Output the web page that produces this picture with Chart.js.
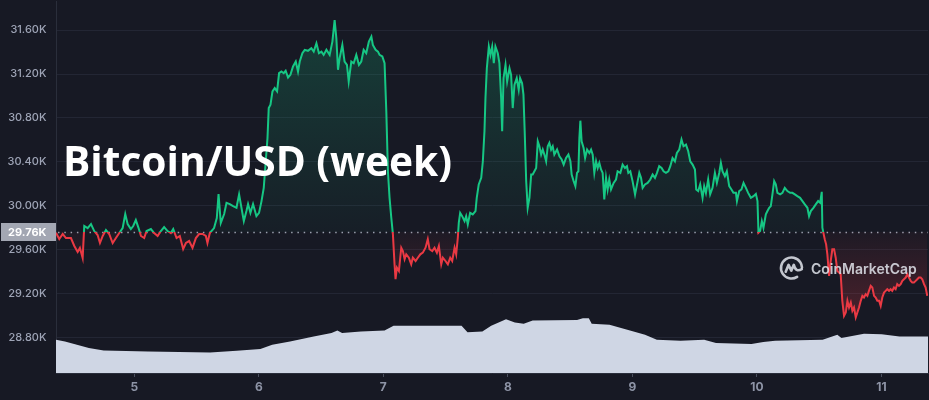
<!DOCTYPE html>
<html>
<head>
<meta charset="utf-8">
<script src="https://cdn.jsdelivr.net/npm/chart.js@4.4.1/dist/chart.umd.min.js"></script>
<style>
  html, body { margin: 0; padding: 0; background: #171924; }
  #wrap { width: 929px; height: 400px; }
</style>
</head>
<body>
<div id="wrap"><canvas id="myChart" width="929" height="400"></canvas></div>
<script>
// price (USD), time in days of the month
const priceTimes = [
  4.372, 4.398, 4.426, 4.452, 4.492, 4.519, 4.546, 4.564, 4.586, 4.599,
  4.626, 4.653, 4.679, 4.706, 4.725, 4.747, 4.773, 4.799, 4.827, 4.853,
  4.880, 4.907, 4.928, 4.947, 4.973, 4.992, 5.013, 5.035, 5.054, 5.080,
  5.099, 5.134, 5.160, 5.188, 5.214, 5.240, 5.268, 5.294, 5.313, 5.340,
  5.366, 5.393, 5.415, 5.441, 5.468, 5.495, 5.521, 5.548, 5.575, 5.588,
  5.607, 5.641, 5.663, 5.677, 5.695, 5.722,
  5.741, 5.767, 5.794, 5.821, 5.842, 5.861, 5.880, 5.901, 5.914, 5.933,
  5.954, 5.981, 6.002, 6.022, 6.040, 6.056, 6.070, 6.080, 6.094, 6.110,
  6.128, 6.147, 6.163, 6.182, 6.200, 6.216, 6.235, 6.254, 6.275, 6.297,
  6.315, 6.329, 6.350, 6.369, 6.395, 6.422, 6.441, 6.463, 6.483, 6.503,
  6.521, 6.543, 6.569, 6.591, 6.609, 6.623, 6.636, 6.649, 6.671, 6.689,
  6.708, 6.722, 6.743, 6.762, 6.783, 6.804, 6.823, 6.842, 6.863, 6.884,
  6.904, 6.916, 6.938, 6.957, 6.970, 6.992, 7.010, 7.024, 7.037, 7.050,
  7.064, 7.077, 7.090,
  7.098, 7.109, 7.125, 7.144, 7.157, 7.171, 7.184, 7.205, 7.224, 7.237,
  7.259, 7.277, 7.297, 7.317, 7.339, 7.357, 7.371, 7.393, 7.411, 7.430,
  7.446, 7.465, 7.478, 7.499, 7.518, 7.537, 7.553, 7.572, 7.585, 7.598,
  7.606, 7.617, 7.633, 7.652, 7.665, 7.678, 7.697, 7.718, 7.740, 7.750,
  7.766, 7.786, 7.799, 7.812, 7.820, 7.831, 7.847, 7.860, 7.874, 7.887,
  7.900, 7.919, 7.932, 7.946, 7.954, 7.965, 7.981, 7.994, 8.013, 8.026,
  8.039, 8.053, 8.071, 8.087, 8.098, 8.114, 8.125, 8.135, 8.147, 8.159,
  8.173, 8.187, 8.199, 8.213, 8.227, 8.240, 8.253, 8.267, 8.280, 8.293,
  8.307, 8.320, 8.333,
  8.347, 8.360, 8.373, 8.395, 8.414, 8.432, 8.448, 8.467, 8.486, 8.502,
  8.512, 8.528, 8.542, 8.555, 8.566, 8.574, 8.582, 8.592, 8.608, 8.620,
  8.636, 8.654, 8.668, 8.681, 8.694, 8.708, 8.721, 8.734, 8.748, 8.761,
  8.774, 8.788, 8.801, 8.814, 8.828, 8.849, 8.868, 8.881, 8.903, 8.921,
  8.940, 8.956, 8.967, 8.983, 9.001, 9.021, 9.037, 9.055, 9.069, 9.082,
  9.101, 9.122, 9.143, 9.162, 9.181, 9.197, 9.215, 9.234, 9.250, 9.269,
  9.288, 9.304, 9.322, 9.341, 9.357, 9.376, 9.394, 9.410, 9.430, 9.448,
  9.464, 9.483, 9.502, 9.512, 9.528, 9.544, 9.563, 9.576, 9.590, 9.608,
  9.624, 9.643, 9.662, 9.678, 9.697, 9.710, 9.723, 9.742, 9.758, 9.777,
  9.795, 9.811, 9.831, 9.839, 9.857, 9.875,
  9.892, 9.911, 9.929, 9.951, 9.972, 9.991, 10.004, 10.012, 10.025, 10.039,
  10.052, 10.071, 10.084, 10.098, 10.111, 10.124, 10.138, 10.151, 10.164, 10.186,
  10.204, 10.223, 10.244, 10.266, 10.284, 10.304, 10.324, 10.346, 10.365, 10.384,
  10.405, 10.418, 10.432, 10.453, 10.472, 10.491, 10.507, 10.520, 10.525, 10.533,
  10.544, 10.555, 10.565, 10.579, 10.592, 10.605, 10.619, 10.632, 10.645, 10.659,
  10.672, 10.685, 10.699, 10.713, 10.726, 10.739, 10.753, 10.766, 10.779, 10.793,
  10.806, 10.819, 10.833, 10.846, 10.859, 10.873, 10.886, 10.899, 10.913, 10.926,
  10.940, 10.953, 10.966, 10.980, 10.993, 11.006, 11.020, 11.033, 11.046, 11.060,
  11.073, 11.086, 11.100, 11.113, 11.126, 11.140, 11.154, 11.167, 11.180, 11.194,
  11.207, 11.220, 11.234, 11.247, 11.260, 11.274, 11.287, 11.300, 11.314, 11.327,
  11.341, 11.354, 11.367
];
const priceValues = [
  29754, 29696, 29742, 29705, 29705, 29633, 29578, 29615, 29524, 29815,
  29796, 29833, 29769, 29733, 29660, 29724, 29778, 29742, 29660, 29705,
  29751, 29796, 29924, 29833, 29787, 29815, 29869, 29796, 29724, 29705,
  29769, 29787, 29751, 29724, 29769, 29805, 29769, 29751, 29787, 29705,
  29724, 29605, 29660, 29678, 29615, 29705, 29742, 29742, 29724, 29660,
  29751, 29796, 29887, 30105, 29842, 29924,
  30026, 30015, 29996, 29981, 30103, 29981, 29860, 29951, 30015, 29935,
  30015, 29905, 29935, 30042, 30163, 30405, 30617, 30890, 30921, 31042,
  31072, 31042, 31208, 31223, 31208, 31230, 31169, 31193, 31269, 31314,
  31223, 31314, 31390, 31421, 31412, 31435, 31405, 31481, 31390, 31405,
  31375, 31421, 31375, 31496, 31693, 31526, 31239, 31344, 31466, 31314,
  31284, 31133, 31314, 31299, 31375, 31284, 31314, 31421, 31390, 31496,
  31542, 31466, 31421, 31405, 31375, 31360, 31299, 30860, 30314, 30072,
  29890, 29739, 29466,
  29330, 29435, 29405, 29617, 29587, 29512, 29557, 29526, 29466, 29526,
  29496, 29526, 29557, 29572, 29617, 29694, 29603, 29587, 29617, 29572,
  29633, 29466, 29526, 29496, 29466, 29526, 29496, 29617, 29557, 29708,
  29845, 29935, 29905, 29860, 29905, 29830, 29935, 29921, 29951, 30072,
  30194, 30254, 30405, 30678, 30981, 31253, 31451, 31375, 31451, 31299,
  31451, 31390, 31299, 30981, 30678, 31163, 31284, 31133, 31253, 31193,
  30890, 31103, 31163, 31057, 31163, 31117, 31012, 30678, 30224, 29981,
  30072, 30284, 30284, 30314, 30344, 30587, 30542, 30466, 30512, 30466,
  30405, 30542, 30572,
  30512, 30542, 30466, 30512, 30451, 30421, 30375, 30435, 30466, 30405,
  30284, 30224, 30178, 30299, 30314, 30617, 30775, 30587, 30526, 30435,
  30512, 30481, 30512, 30466, 30299, 30405, 30344, 30390, 30330, 30299,
  30057, 30254, 30148, 30239, 30148, 30208, 30239, 30314, 30299, 30375,
  30344, 30360, 30299, 30314, 30224, 30103, 30194, 30299, 30254, 30163,
  30194, 30208, 30239, 30284, 30254, 30299, 30360, 30344, 30314, 30299,
  30314, 30360, 30435, 30405, 30481, 30512, 30603, 30542, 30557, 30496,
  30405, 30375, 30330, 30148, 30133, 30194, 30072, 30178, 30117, 30239,
  30103, 30163, 30299, 30208, 30299, 30390, 30314, 30269, 30314, 30178,
  30148, 30117, 30117, 30042, 30133, 30148,
  30208, 30163, 30117, 30072, 30087, 30108, 30042, 29754, 29769, 29860,
  29799, 29921, 29951, 29981, 29996, 30103, 30224, 30194, 30117, 30103,
  30117, 30163, 30133, 30117, 30117, 30103, 30087, 30072, 30042, 30012,
  29981, 29905, 29951, 29981, 30012, 30042, 30026, 30126, 29799, 29754,
  29694, 29648, 29557, 29360, 29496, 29603, 29603, 29526, 29405, 29390,
  29375, 29133, 28996, 29026, 29133, 29072, 29117, 29042, 29072, 28981,
  29026, 29072, 29133, 29178, 29163, 29194, 29178, 29224, 29269, 29254,
  29178, 29163, 29133, 29133, 29087, 29163, 29208, 29224, 29239, 29224,
  29239, 29224, 29254, 29239, 29285, 29269, 29285, 29315, 29330, 29345,
  29375, 29345, 29315, 29299, 29299, 29315, 29330, 29345, 29345, 29330,
  29285, 29254, 29178
];
// volume (bn USD), drawn on its own hidden axis
const volumeTimes = [
  4.372, 4.444, 4.540, 4.636, 4.755, 5.110, 5.609, 5.823, 6.013, 6.108,
  6.251, 6.441, 6.584, 6.631, 6.669, 6.821, 7.010, 7.082, 7.628, 7.676,
  7.795, 7.866, 7.985, 8.056, 8.127, 8.199, 8.555, 8.602, 8.650, 8.673,
  8.816, 8.959, 9.101, 9.196, 9.386, 9.576, 9.671, 9.956, 10.051, 10.146,
  10.527, 10.645, 10.678, 10.859, 11.001, 11.144, 11.373
];
const volumeValues = [
  8.92, 8.47, 7.58, 6.70, 6.05, 5.79, 5.52, 5.97, 6.43, 7.58,
  8.47, 9.80, 10.72, 11.41, 10.72, 11.14, 11.41, 12.67, 12.67, 10.98,
  11.14, 12.67, 14.47, 13.55, 13.21, 14.09, 14.28, 14.73, 14.73, 13.21,
  12.94, 11.60, 10.26, 8.92, 8.65, 8.92, 8.04, 7.77, 8.30, 8.65,
  8.92, 10.26, 9.38, 10.53, 10.45, 9.80, 9.80
];
const yTicks = [28800, 29200, 29600, 30000, 30400, 30800, 31200, 31600];
const xTicks = [5, 6, 7, 8, 9, 10, 11];
const baseline = 29760;
const chartTitle = 'Bitcoin/USD (week)';
const watermark = 'CoinMarketCap';

const green = '#16c784';
const red = '#ea3943';

function toK(v) { return (v / 1000).toFixed(2) + 'K'; }

const pricePoints = priceTimes.map((t, i) => ({ x: t, y: priceValues[i] }));
const volumePoints = volumeTimes.map((t, i) => ({ x: t, y: volumeValues[i] }));

// background, dotted open-price line, axis tag, title and logo
const decor = {
  id: 'decor',
  beforeDraw(chart) {
    const ctx = chart.ctx;
    ctx.save();
    ctx.fillStyle = '#171924';
    ctx.fillRect(0, 0, chart.width, chart.height);
    ctx.restore();
  },
  beforeDatasetsDraw(chart) {
    const { ctx, chartArea } = chart;
    const y = Math.round(chart.scales.y.getPixelForValue(baseline)) + 0.5;
    ctx.save();
    ctx.strokeStyle = '#9aa0ae';
    ctx.lineWidth = 1.3;
    ctx.setLineDash([1.5, 4.8]);
    ctx.beginPath();
    ctx.moveTo(chartArea.left + 2, y);
    ctx.lineTo(chartArea.right, y);
    ctx.stroke();
    ctx.restore();
  },
  afterDatasetsDraw(chart) {
    const ctx = chart.ctx;
    const cx = 791.5, cy = 268, r = 10.5;
    ctx.save();
    ctx.strokeStyle = 'rgba(226,229,236,0.85)';
    ctx.fillStyle = 'rgba(226,229,236,0.85)';
    ctx.lineWidth = 2.6;
    ctx.lineCap = 'round';
    ctx.lineJoin = 'round';
    ctx.beginPath();
    ctx.arc(cx, cy, r, 0.32 * Math.PI, 1.98 * Math.PI);
    ctx.stroke();
    ctx.beginPath();
    ctx.moveTo(cx - 0.55 * r, cy + 0.35 * r);
    ctx.lineTo(cx - 0.28 * r, cy - 0.3 * r);
    ctx.lineTo(cx - 0.02 * r, cy + 0.25 * r);
    ctx.lineTo(cx + 0.22 * r, cy - 0.3 * r);
    ctx.quadraticCurveTo(cx + 0.4 * r, cy + 0.45 * r, cx + 0.98 * r, cy + 0.1 * r);
    ctx.stroke();
    ctx.font = '600 14px Inter';
    ctx.textBaseline = 'alphabetic';
    ctx.fillText(watermark, 811, 273.5);
    ctx.restore();
  },
  afterDraw(chart) {
    const ctx = chart.ctx;
    const y = chart.scales.y.getPixelForValue(baseline);
    ctx.save();
    ctx.fillStyle = '#a3a7b3';
    ctx.fillRect(1, Math.round(y) - 9, 55, 18);
    ctx.fillStyle = '#ffffff';
    ctx.font = '700 11px Inter';
    ctx.textAlign = 'right';
    ctx.textBaseline = 'middle';
    ctx.fillText(toK(baseline), 46.5, y + 0.5);
    // title: keep the cap height, squeeze to the width seen in the picture
    ctx.font = 'bold 42px "Open Sans"';
    ctx.textAlign = 'left';
    ctx.textBaseline = 'alphabetic';
    const w = ctx.measureText(chartTitle).width;
    ctx.translate(63, 175.5);
    ctx.scale(389 / w, 1);
    ctx.fillText(chartTitle, 0, 0);
    ctx.restore();
  }
};

var ctx = document.getElementById('myChart').getContext('2d');
var chart = new Chart(ctx, {
  type: 'line',
  data: {
    datasets: [{
      label: 'Price',
      data: pricePoints,
      yAxisID: 'y',
      borderColor: green,
      borderWidth: 2,
      pointRadius: 0,
      tension: 0,
      fill: { target: { value: baseline }, above: 'rgba(22,199,132,0.1)', below: 'rgba(234,57,67,0.1)' },
      order: 0
    }, {
      label: 'Volume',
      data: volumePoints,
      yAxisID: 'yVol',
      borderWidth: 0,
      borderColor: '#cfd6e4',
      backgroundColor: '#cfd6e4',
      pointRadius: 0,
      tension: 0,
      fill: 'origin',
      order: 1
    }]
  },
  options: {
    responsive: false,
    devicePixelRatio: 1,
    animation: false,
    layout: { padding: 0 },
    plugins: { legend: { display: false }, tooltip: { enabled: false } },
    scales: {
      x: {
        type: 'linear',
        min: 4.372,
        max: 11.373,
        grid: { drawOnChartArea: false, drawTicks: true, tickLength: 4, color: '#4a4f5e' },
        border: { display: true, color: '#2a2e3b' },
        ticks: { color: '#8e94a6', font: { family: 'Inter', size: 12, weight: '700' }, padding: 3, maxRotation: 0 },
        afterBuildTicks(scale) { scale.ticks = xTicks.map(v => ({ value: v })); },
        afterFit(scale) { scale.height = 27; scale.paddingLeft = 0; scale.paddingRight = 0; }
      },
      y: {
        type: 'linear',
        position: 'left',
        min: 28475,
        max: 31866,
        grid: { color: '#232634', drawTicks: false },
        border: { display: true, color: '#2a2e3b' },
        ticks: { color: '#9ea4b6', font: { family: 'Inter', size: 11, weight: '500' }, padding: 9.5, callback: v => toK(v) },
        afterBuildTicks(scale) { scale.ticks = yTicks.map(v => ({ value: v })); },
        afterFit(scale) { scale.width = 56; scale.paddingTop = 0; scale.paddingBottom = 0; }
      },
      yVol: {
        type: 'linear',
        display: false,
        min: 0,
        max: 100
      }
    }
  },
  plugins: [decor]
});

// gradients need the finished layout: line split at the open price, fills fading to it
const area = chart.chartArea;
const ys = chart.scales.y;
const baseY = ys.getPixelForValue(baseline);
const c = chart.ctx;
const split = (baseY - area.top) / (area.bottom - area.top);
const lineGrad = c.createLinearGradient(0, area.top, 0, area.bottom);
lineGrad.addColorStop(0, green);
lineGrad.addColorStop(split, green);
lineGrad.addColorStop(split, red);
lineGrad.addColorStop(1, red);
const upGrad = c.createLinearGradient(0, ys.getPixelForValue(31700), 0, baseY);
upGrad.addColorStop(0, 'rgba(22,199,132,0.22)');
upGrad.addColorStop(1, 'rgba(22,199,132,0.03)');
const downGrad = c.createLinearGradient(0, baseY, 0, ys.getPixelForValue(29000));
downGrad.addColorStop(0, 'rgba(234,57,67,0.03)');
downGrad.addColorStop(1, 'rgba(234,57,67,0.24)');
const ds = chart.data.datasets[0];
ds.borderColor = lineGrad;
ds.fill = { target: { value: baseline }, above: upGrad, below: downGrad };
chart.update('none');
</script>
</body>
</html>
